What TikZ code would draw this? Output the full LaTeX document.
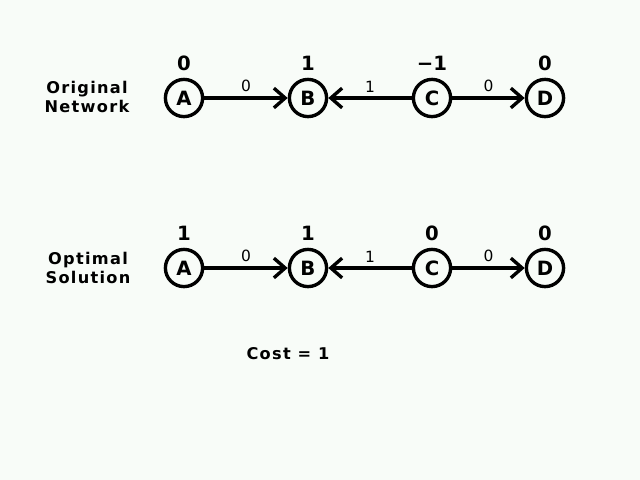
\documentclass[tikz,border=0pt]{standalone}
\usepackage{fontspec}
\setmainfont{DejaVu Sans}
\newfontfamily\widefont[LetterSpace=8]{DejaVu Sans}
\usetikzlibrary{arrows.meta, positioning}
\definecolor{bgpaper}{RGB}{248,252,248}

\begin{document}
\begin{tikzpicture}[
    x=0.025cm, y=-0.025cm,
    state/.style={draw, circle, line width=2.4pt, minimum size=0.93cm, inner sep=0pt, font=\bfseries\fontsize{14}{14}\selectfont},
    num/.style={font=\bfseries\fontsize{14}{14}\selectfont, inner sep=1pt},
    title/.style={align=center, font=\widefont\bfseries\fontsize{11.5}{13.5}\selectfont},
    cost/.style={font=\widefont\bfseries\fontsize{11.5}{12}\selectfont},
    arr/.style={-{Straight Barb[length=8pt, width=14pt, line width=2.4pt]}, line width=2.4pt},
    wt/.style={above, font=\fontsize{11}{11}\selectfont, inner sep=3pt}
]
\fill[bgpaper] (0,0) rectangle (640,480);
\useasboundingbox (0,0) rectangle (640,480);

% original network
\node[title] (orig) at (87,97) {Original\\Network};
\node[state] (a1) at (184,98) {A};
\node[state] (b1) at (308,98) {B};
\node[state] (c1) at (432,98) {C};
\node[state] (d1) at (545,98) {D};
\node[num, above=0.13cm of a1] (na1) {0};
\node[num, above=0.13cm of b1] (nb1) {1};
\node[num, above=0.13cm of c1] (nc1) {\symbol{"2212}1};
\node[num, above=0.13cm of d1] (nd1) {0};

\draw[arr] (a1) -- node[wt]{0} (b1);
\draw[arr] (c1) -- node[wt]{1} (b1);
\draw[arr] (c1) -- node[wt]{0} (d1);

% optimal solution
\node[title] (opt) at (88,268) {Optimal\\Solution};
\node[state] (a2) at (184,268) {A};
\node[state] (b2) at (308,268) {B};
\node[state] (c2) at (432,268) {C};
\node[state] (d2) at (545,268) {D};
\node[num, above=0.13cm of a2] (na2) {1};
\node[num, above=0.13cm of b2] (nb2) {1};
\node[num, above=0.13cm of c2] (nc2) {0};
\node[num, above=0.13cm of d2] (nd2) {0};

\draw[arr] (a2) -- node[wt]{0} (b2);
\draw[arr] (c2) -- node[wt]{1} (b2);
\draw[arr] (c2) -- node[wt]{0} (d2);

\node[cost] (total) at (288,354) {Cost = 1};
\end{tikzpicture}
\end{document}
